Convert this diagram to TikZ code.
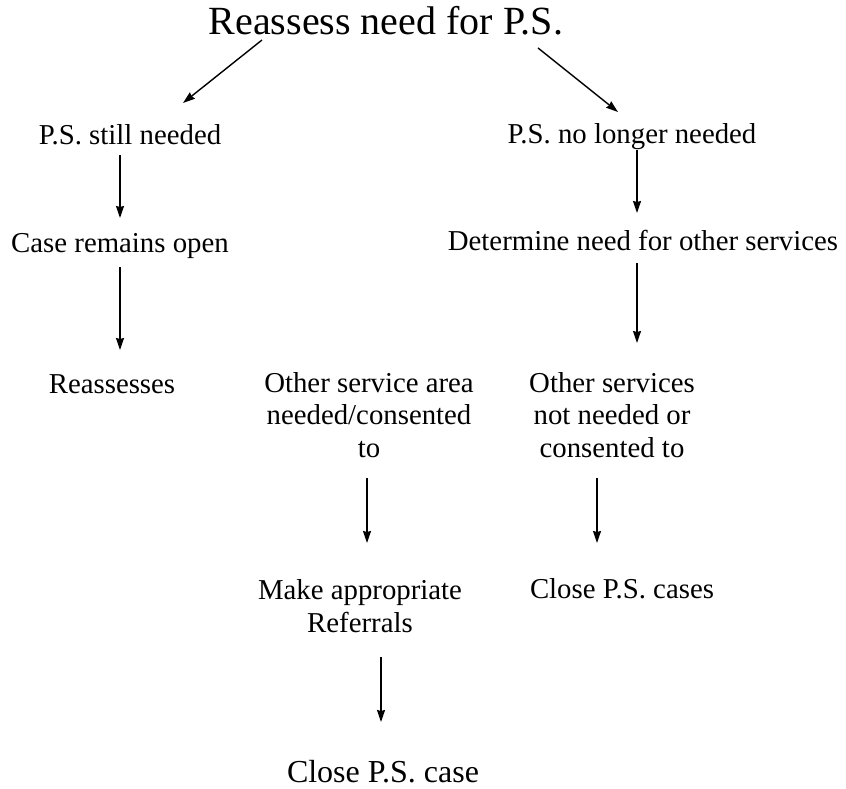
\documentclass[tikz,border=0pt]{standalone}
\usepackage{fontspec}
\setmainfont{Liberation Serif}
\usepackage{tikz}
\usetikzlibrary{calc}
\usetikzlibrary{arrows.meta}

\tikzset{
  txt/.style={inner sep=0, anchor=base, align=center, font=\fontsize{28.8}{32.5}\selectfont},
  arr/.style={line width=1.4pt, -{Stealth[length=12pt,width=8pt,inset=1pt]}}
}

\begin{document}
\begin{tikzpicture}[x=1pt, y=-1pt]
        \useasboundingbox (0,0) rectangle (846,789);

        % Nodes
        \draw (386,35)  node(title) [txt, font=\fontsize{40}{44}\selectfont] {Reassess need for P.S.};
        \draw (130,145) node(still) [txt] {P.S. still needed};
        \draw (632,143) node(nolonger) [txt] {P.S. no longer needed};
        \draw (120,252) node(open) [txt] {Case remains open};
        \draw (643,250) node(determine) [txt] {Determine need for other services};
        \draw (112,393) node(reassesses) [txt] {Reassesses};
        \draw (369,457) node(otherarea) [txt] {Other service area\\needed/consented\\to};
        \draw (612,457) node(othersvc) [txt] {Other services\\not needed or\\consented to};
        \draw (360,632) node(referrals) [txt] {Make appropriate\\Referrals};
        \draw (622,598) node(closecases) [txt] {Close P.S. cases};
        \draw (383,782) node(closecase) [txt, font=\fontsize{32}{36}\selectfont] {Close P.S. case};

        % Edges
        \draw[arr] ([xshift=-124pt,yshift=-5pt]title.base) -- ([xshift=53pt,yshift=42pt]still.base);
        \draw[arr] ([xshift=152pt,yshift=-13pt]title.base) -- ([xshift=-14pt,yshift=31pt]nolonger.base);
        \draw[arr] ([xshift=-10pt,yshift=-10pt]still.base) -- ([yshift=34pt]open.base);
        \draw[arr] ([yshift=-15pt]open.base) -- ([xshift=8pt,yshift=43pt]reassesses.base);
        \draw[arr] ([xshift=5pt,yshift=-7pt]nolonger.base) -- ([xshift=-6pt,yshift=37pt]determine.base);
        \draw[arr] ([xshift=-6pt,yshift=-13pt]determine.base) -- ([xshift=25pt,yshift=114pt]othersvc.base);
        \draw[arr] ([xshift=-2pt,yshift=-21pt]otherarea.base) -- ([xshift=7pt,yshift=89pt]referrals.base);
        \draw[arr] ([xshift=-15pt,yshift=-21pt]othersvc.base) -- ([xshift=-25pt,yshift=55pt]closecases.base);
        \draw[arr] ([xshift=21pt,yshift=-25pt]referrals.base) -- ([xshift=-2pt,yshift=60pt]closecase.base);

\end{tikzpicture}
\end{document}
